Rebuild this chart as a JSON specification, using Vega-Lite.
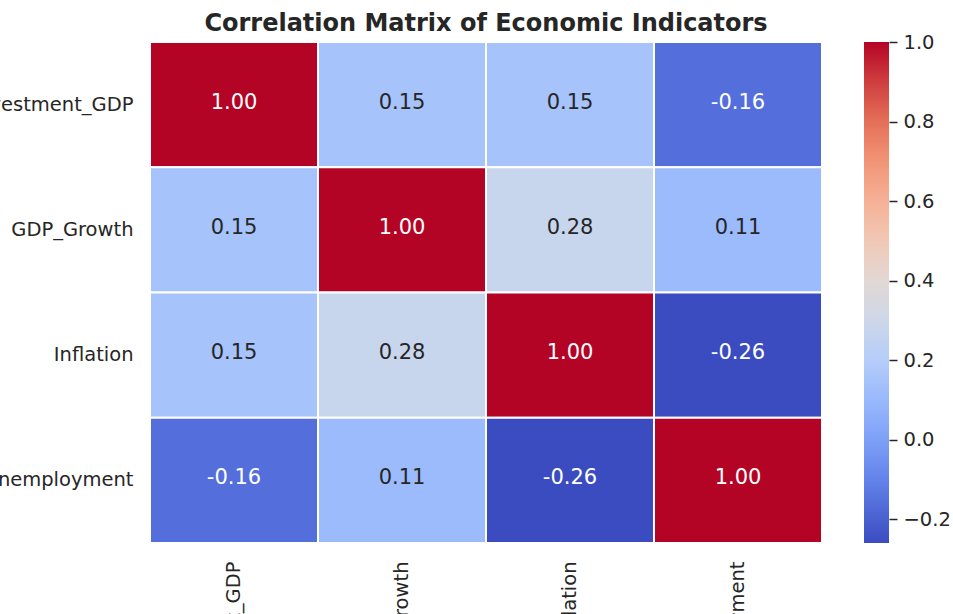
{
  "$schema": "https://vega.github.io/schema/vega-lite/v6.json",
  "width": 672,
  "height": 501,
  "autosize": {"type": "none"},
  "padding": {"left": 150, "top": 42, "right": 131, "bottom": 71},
  "background": "white",
  "title": {
    "text": "Correlation Matrix of Economic Indicators",
    "font": "DejaVu Sans",
    "fontSize": 24,
    "fontWeight": "bold",
    "color": "#262626",
    "anchor": "middle",
    "offset": -4
  },
  "config": {
    "view": {"stroke": null},
    "font": "DejaVu Sans"
  },
  "data": {
    "values": [
      {"row": "Investment_GDP", "col": "Investment_GDP", "value": 1.0},
      {"row": "Investment_GDP", "col": "GDP_Growth", "value": 0.15},
      {"row": "Investment_GDP", "col": "Inflation", "value": 0.15},
      {"row": "Investment_GDP", "col": "Unemployment", "value": -0.16},
      {"row": "GDP_Growth", "col": "Investment_GDP", "value": 0.15},
      {"row": "GDP_Growth", "col": "GDP_Growth", "value": 1.0},
      {"row": "GDP_Growth", "col": "Inflation", "value": 0.28},
      {"row": "GDP_Growth", "col": "Unemployment", "value": 0.11},
      {"row": "Inflation", "col": "Investment_GDP", "value": 0.15},
      {"row": "Inflation", "col": "GDP_Growth", "value": 0.28},
      {"row": "Inflation", "col": "Inflation", "value": 1.0},
      {"row": "Inflation", "col": "Unemployment", "value": -0.26},
      {"row": "Unemployment", "col": "Investment_GDP", "value": -0.16},
      {"row": "Unemployment", "col": "GDP_Growth", "value": 0.11},
      {"row": "Unemployment", "col": "Inflation", "value": -0.26},
      {"row": "Unemployment", "col": "Unemployment", "value": 1.0}
    ]
  },
  "layer": [
    {
      "encoding": {
        "x": {
          "field": "col", "type": "nominal",
          "sort": ["Investment_GDP", "GDP_Growth", "Inflation", "Unemployment"],
          "scale": {"paddingInner": 0, "paddingOuter": 0},
          "axis": {
            "title": null, "ticks": false, "domain": false,
            "labelAngle": 270, "labelFontSize": 19.5, "labelColor": "#262626",
            "labelPadding": 18, "labelFont": "DejaVu Sans"
          }
        },
        "y": {
          "field": "row", "type": "nominal",
          "sort": ["Investment_GDP", "GDP_Growth", "Inflation", "Unemployment"],
          "scale": {"paddingInner": 0, "paddingOuter": 0},
          "axis": {
            "title": null, "ticks": false, "domain": false,
            "labelFontSize": 19.5, "labelColor": "#262626",
            "labelPadding": 17, "labelFont": "DejaVu Sans"
          }
        }
      },
      "layer": [
        {
          "mark": {"type": "rect", "stroke": "white", "strokeWidth": 2},
          "encoding": {
            "color": {
              "field": "value", "type": "quantitative",
              "scale": {
                "domain": [-0.26, -0.1025, 0.055, 0.2125, 0.37, 0.5275, 0.685, 0.8425, 1.0],
                "range": ["#3b4cc0", "#6282ea", "#8db0fe", "#b8d0f9", "#dddddd", "#f5c4ad", "#f49a7b", "#de604d", "#b40426"],
                "interpolate": "rgb"
              },
              "legend": {
                "title": null,
                "orient": "none",
                "legendX": 714,
                "legendY": 0,
                "direction": "vertical",
                "gradientLength": 501,
                "gradientThickness": 25,
                "gradientStrokeWidth": 0,
                "values": [-0.2, 0, 0.2, 0.4, 0.6, 0.8, 1.0],
                "labelExpr": "''",
                "padding": 0
              }
            }
          }
        },
        {
          "mark": {
            "type": "text", "fontSize": 21, "font": "DejaVu Sans", "dy": -2,
            "text": {"expr": "replace(format(datum.value, '.2f'), '\u2212', '-')"}
          },
          "encoding": {
            "color": {
              "condition": {"test": "datum.value > 0.6 || datum.value < -0.1", "value": "white"},
              "value": "#262626"
            }
          }
        }
      ]
    },
    {
      "mark": {"type": "point", "opacity": 0},
      "encoding": {
        "y": {
          "field": "value", "type": "quantitative",
          "scale": {"domain": [-0.26, 1.0], "nice": false, "zero": false},
          "axis": {
            "orient": "right", "offset": 67, "title": null,
            "domain": false, "grid": false,
            "values": [-0.2, 0, 0.2, 0.4, 0.6, 0.8, 1.0],
            "format": ".1f",
            "ticks": true, "tickSize": 8, "tickWidth": 1.5, "tickColor": "#262626",
            "labelPadding": 6, "labelFontSize": 19.5, "labelColor": "#262626",
            "labelFont": "DejaVu Sans", "labelBound": false, "labelFlush": false
          }
        }
      }
    }
  ],
  "resolve": {"scale": {"y": "independent"}}
}
